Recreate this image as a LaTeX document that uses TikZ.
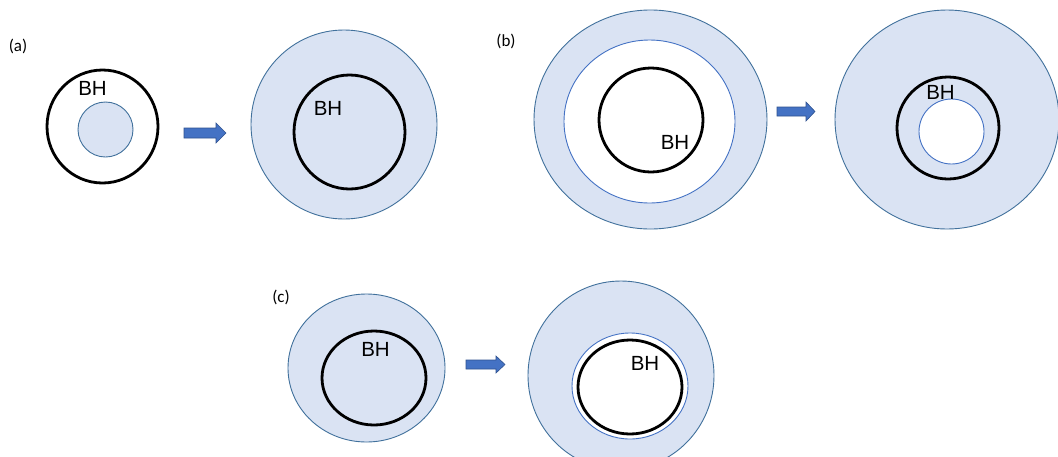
\documentclass[tikz,border=0pt]{standalone}
\usepackage{fontspec}
\newfontfamily\lblfont{Carlito}
\newfontfamily\bhfont{Liberation Sans}
\definecolor{regionfill}{HTML}{DAE3F3}
\definecolor{regionedge}{HTML}{41719C}
\definecolor{holeedge}{HTML}{4472C4}
\definecolor{arrowfill}{HTML}{4472C4}
\definecolor{arrowedge}{HTML}{2F528F}
\tikzset{
  region/.style={fill=regionfill, draw=regionedge, line width=0.9pt},
  hole/.style={fill=white, draw=holeedge, line width=0.9pt},
  horizon/.style={draw=black, line width=2.8pt},
  panel/.style={font=\lblfont\fontsize{17}{19}\selectfont, inner sep=0pt},
  bh/.style={font=\bhfont\fontsize{20.5}{23}\selectfont, inner sep=0pt},
  fatarrow/.style={fill=arrowfill, draw=arrowedge, line width=0.6pt, line join=miter},
}
% block arrow: #1 start x, #2 head start x, #3 tip x, #4 mid y, #5 half shaft, #6 half head
\newcommand{\blockarrow}[6]{%
  \draw[fatarrow] (#1,#4-#5) -- (#2,#4-#5) -- (#2,#4-#6) -- (#3,#4)
    -- (#2,#4+#6) -- (#2,#4+#5) -- (#1,#4+#5) -- cycle;}
\begin{document}
\begin{tikzpicture}[x=1pt,y=-1pt]
\clip (0,0) rectangle (1058,456);
\fill[white] (0,0) rectangle (1058,456);

% ---- (a) ----
\node[panel] (la) at (18,46) {(a)};
\draw[horizon] (102.5,126.5) ellipse [x radius=55.5pt, y radius=56.5pt];
\draw[region] (105.5,129.5) circle [radius=27.5pt];
\node[bh] (bha1) at (92.5,88.5) {BH};
\blockarrow{184}{216}{226}{133}{5}{10}
\draw[region] (344,124.5) ellipse [x radius=93pt, y radius=94.5pt];
\draw[horizon] (349.5,132) ellipse [x radius=55.5pt, y radius=57pt];
\node[bh] (bha2) at (328,108) {BH};

% ---- (b) ----
\node[panel] (lb) at (506,41) {(b)};
\draw[region] (650.5,119.5) ellipse [x radius=116.5pt, y radius=109.5pt];
\draw[hole] (649.5,121.5) ellipse [x radius=85.5pt, y radius=81.5pt];
\draw[horizon] (651,120) circle [radius=52pt];
\node[bh] (bhb1) at (675,142) {BH};
\blockarrow{777}{806}{815}{111.5}{4.5}{9.5}
\draw[region] (947,119.5) ellipse [x radius=112pt, y radius=109.5pt];
\draw[horizon] (948,128) circle [radius=51pt];
\draw[hole] (951.5,131.5) circle [radius=32.5pt];
\node[bh] (bhb2) at (940.5,92) {BH};

% ---- (c) ----
\node[panel] (lc) at (281,297) {(c)};
\draw[region] (366.5,368) ellipse [x radius=78.5pt, y radius=74pt];
\draw[horizon] (374,378) ellipse [x radius=52pt, y radius=47pt];
\node[bh] (bhc1) at (375.5,349) {BH};
\blockarrow{466}{496}{505}{364.5}{4.5}{8.5}
\draw[region] (621,375.5) ellipse [x radius=93pt, y radius=94.5pt];
\draw[hole] (630,386) ellipse [x radius=58pt, y radius=53pt];
\draw[horizon] (630,387) ellipse [x radius=52pt, y radius=47pt];
\node[bh] (bhc2) at (645,363) {BH};
\end{tikzpicture}
\end{document}
